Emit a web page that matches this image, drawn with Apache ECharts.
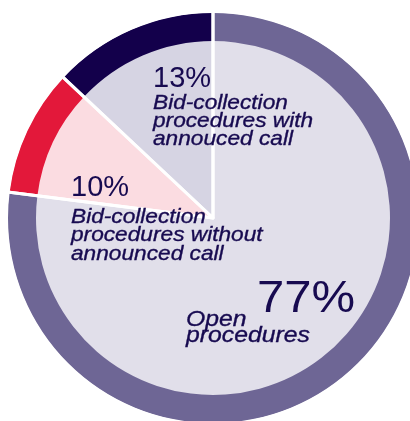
<!DOCTYPE html>
<html>
<head>
<meta charset="utf-8">
<script src="https://cdn.jsdelivr.net/npm/echarts@6/dist/echarts.min.js"></script>
<style>
  html, body { margin: 0; padding: 0; background: #ffffff; }
  #chart { width: 410px; height: 421px; }
</style>
</head>
<body>
<div id="chart"></div>
<script>
// Share of procedure types (percent)
const categories = [
  'Open procedures',
  'Bid-collection procedures without announced call',
  'Bid-collection procedures with annouced call'
];
const shares = [77, 10, 13];

// Label text shown inside each slice (line breaks as drawn)
const labelLines = [
  'Open\nprocedures',
  'Bid-collection\nprocedures without\nannounced call',
  'Bid-collection\nprocedures with\nannouced call'
];

// Ring (outer band) and fill (inner disc) colours per slice
const ringColors = ['#6e6695', '#e3183a', '#13004b'];
const fillColors = ['#e1dfea', '#fbdce1', '#d6d4e3'];

const textColor = '#170a50';
const center = [213, 218];

function pieData(colors) {
  return shares.map((v, i) => ({
    name: categories[i],
    value: v,
    itemStyle: { color: colors[i] }
  }));
}

const baseSeries = {
  type: 'pie',
  center: center,
  startAngle: 90,
  clockwise: true,
  label: { show: false },
  labelLine: { show: false },
  emphasis: { disabled: true },
  silent: true,
  animation: false
};

// Text helper: position via x/y so scaleX stretches from the left edge
function txt(x, y, text, size, italic, lineH, sx, weight) {
  return {
    type: 'text',
    x: x,
    y: y,
    z: 100,
    scaleX: sx,
    scaleY: 1,
    style: {
      x: 0,
      y: 0,
      text: text,
      fill: textColor,
      stroke: weight ? textColor : null,
      lineWidth: weight || 0,
      fontFamily: '"Liberation Sans", Arial, sans-serif',
      fontSize: size,
      fontStyle: italic ? 'italic' : 'normal',
      lineHeight: lineH,
      verticalAlign: 'top'
    }
  };
}

const chart = echarts.init(document.getElementById('chart'), null, { renderer: 'canvas' });
chart.setOption({
  backgroundColor: '#ffffff',
  series: [
    Object.assign({}, baseSeries, { radius: [0, 178], data: pieData(fillColors), z: 1 }),
    Object.assign({}, baseSeries, { radius: [177, 205], data: pieData(ringColors), z: 2 }),
    // white separators drawn over both rings
    Object.assign({}, baseSeries, {
      radius: [0, 207],
      z: 3,
      data: shares.map((v, i) => ({
        name: categories[i],
        value: v,
        itemStyle: { color: 'rgba(0,0,0,0)', borderColor: '#ffffff', borderWidth: 3 }
      }))
    })
  ],
  graphic: [
    txt(153, 65, shares[2] + '%', 29, false, 28, 1.0, 0),
    txt(153, 94, labelLines[2], 21, true, 18, 1.08, 0.35),
    txt(71, 174, shares[1] + '%', 29, false, 28, 1.0, 0),
    txt(71, 208, labelLines[1], 21, true, 18.3, 1.08, 0.35),
    txt(257, 278, shares[0] + '%', 45, false, 44, 1.09, 0),
    txt(186, 311, labelLines[0], 22.5, true, 16.5, 1.1, 0.35)
  ]
});
</script>
</body>
</html>
